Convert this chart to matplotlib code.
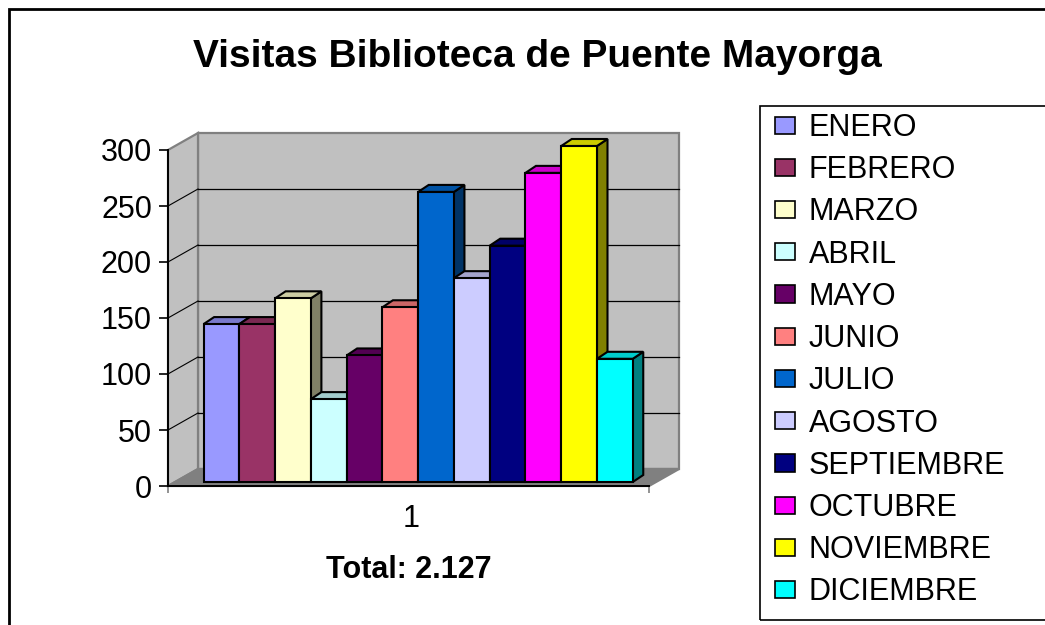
import numpy as np
import matplotlib.pyplot as plt
from matplotlib.patches import Polygon, Patch, Rectangle
from matplotlib.colors import to_rgb

plt.rcParams['font.family'] = ['Liberation Sans', 'DejaVu Sans']

months = ['ENERO', 'FEBRERO', 'MARZO', 'ABRIL', 'MAYO', 'JUNIO', 'JULIO',
          'AGOSTO', 'SEPTIEMBRE', 'OCTUBRE', 'NOVIEMBRE', 'DICIEMBRE']
visits = [141, 141, 164, 74, 113, 156, 259, 182, 211, 276, 300, 110]
colors = ['#9999FF', '#993366', '#FFFFCC', '#CCFFFF', '#660066', '#FF8080',
          '#0066CC', '#CCCCFF', '#000080', '#FF00FF', '#FFFF00', '#00FFFF']
yticks = [0, 50, 100, 150, 200, 250, 300]
title = 'Visitas Biblioteca de Puente Mayorga'
total_label = 'Total: 2.127'

W, H = 1045, 625
fig = plt.figure(figsize=(W / 100, H / 100), dpi=100)
ax = fig.add_axes([168 / W, 1 - 486 / H, (649 - 168) / W, (486 - 150) / H])
XL, XR = -0.8, 12.65
ax.set_xlim(XL, XR)
ax.set_ylim(0, 300)
ax.patch.set_visible(False)

# pixel -> data units for the fake 3d offsets
ux = (XR - XL) / (649 - 168)
uy = 300 / (486 - 150)
wall = (30 * ux, 17 * uy)
shift = (7 * ux, 4 * uy)
depth = (10.5 * ux, 7 * uy)

def shade(c, f):
    return tuple(v * f for v in to_rgb(c))

# walls and floor
back = [(XL + wall[0], wall[1]), (XR + wall[0], wall[1]),
        (XR + wall[0], 300 + wall[1]), (XL + wall[0], 300 + wall[1])]
side = [(XL, 0), (XL + wall[0], wall[1]), (XL + wall[0], 300 + wall[1]), (XL, 300)]
floor = [(XL, 0), (XR, 0), (XR + wall[0], wall[1]), (XL + wall[0], wall[1])]
for poly, fc in [(back, '#C0C0C0'), (side, '#C0C0C0'), (floor, '#808080')]:
    ax.add_patch(Polygon(poly, closed=True, facecolor=fc, edgecolor='#808080',
                         linewidth=1.6, clip_on=False, zorder=0.5))
for v in yticks[1:-1]:
    ax.plot([XL + wall[0], XR + wall[0]], [v + wall[1], v + wall[1]],
            color='black', lw=0.9, clip_on=False, zorder=0.6)
    ax.plot([XL, XL + wall[0]], [v, v + wall[1]],
            color='black', lw=0.8, clip_on=False, zorder=0.6)

# bars: side, top, then front face
x = np.arange(len(visits)) + shift[0]
bars = ax.bar(x, visits, width=1.0, bottom=shift[1], align='edge', color=colors,
              edgecolor='black', linewidth=1.5, clip_on=False)
for i, (bar, h, c) in enumerate(zip(bars, visits, colors)):
    x0, b = x[i], shift[1]
    top = b + h
    sp = [(x0 + 1, b), (x0 + 1 + depth[0], b + depth[1]),
          (x0 + 1 + depth[0], top + depth[1]), (x0 + 1, top)]
    tp = [(x0, top), (x0 + 1, top), (x0 + 1 + depth[0], top + depth[1]),
          (x0 + depth[0], top + depth[1])]
    ax.add_patch(Polygon(sp, closed=True, facecolor=shade(c, 0.5), edgecolor='black',
                         linewidth=1.5, clip_on=False, zorder=3 + 3 * i))
    ax.add_patch(Polygon(tp, closed=True, facecolor=shade(c, 0.8), edgecolor='black',
                         linewidth=1.5, clip_on=False, zorder=4 + 3 * i))
    bar.set_zorder(5 + 3 * i)

# axes
for s in ['top', 'right']:
    ax.spines[s].set_visible(False)
for s in ['left', 'bottom']:
    ax.spines[s].set_linewidth(1.4)
    ax.spines[s].set_zorder(50)
ax.set_yticks(yticks)
ax.tick_params(axis='y', labelsize=22, length=6.5, width=1.2, pad=5)
ax.set_xticks([6.0])
ax.set_xticklabels(['1'])
ax.set_xticks([XL, XR], minor=True)
ax.tick_params(axis='x', which='major', length=0, labelsize=22, pad=13)
ax.tick_params(axis='x', which='minor', length=5, width=1.2, color='#808080')
ax.set_xlabel(total_label, fontsize=22, fontweight='bold', labelpad=15)

fig.text(537 / W, 1 - 57 / H, title, ha='center', va='center',
         fontsize=28, fontweight='bold')

# outer chart border and legend box
fig.patches.append(Rectangle((9 / W, -0.1), 1.2, 1 - 9 / H + 0.1, transform=fig.transFigure,
                             fill=False, edgecolor='black', linewidth=2))
fig.patches.append(Rectangle((760 / W, 1 - 620 / H), 1.0, (620 - 106) / H,
                             transform=fig.transFigure, fill=False,
                             edgecolor='black', linewidth=1.2))

handles = [Patch(facecolor=c, edgecolor='black', linewidth=1.2) for c in colors]
fig.legend(handles, months, loc='upper left', bbox_to_anchor=(775 / W, 1 - 113 / H),
           frameon=False, fontsize=22, handlelength=0.65, handleheight=0.49,
           handletextpad=0.45, labelspacing=0.4, borderaxespad=0, borderpad=0)

fig.savefig('out.png', dpi=100)
